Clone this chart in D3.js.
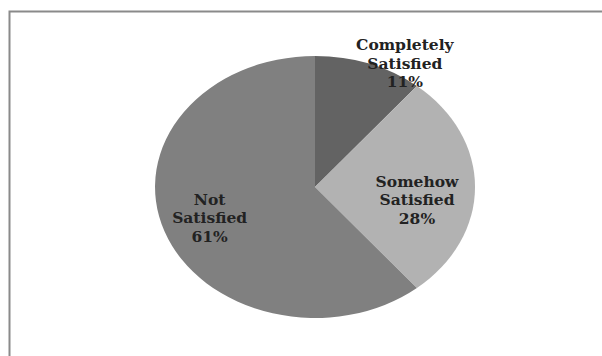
<!DOCTYPE html>
<html>
<head>
<meta charset="utf-8">
<script src="https://cdn.jsdelivr.net/npm/d3@7"></script>
<style>
  html, body { margin: 0; padding: 0; background: #fff; }
  svg { display: block; }
</style>
</head>
<body>
<script>
// Satisfaction survey shares
const categories = ["Completely Satisfied", "Somehow Satisfied", "Not Satisfied"];
const labelLines = [["Completely", "Satisfied"], ["Somehow", "Satisfied"], ["Not", "Satisfied"]];
const shares = [11, 28, 61];
const sliceColors = ["#636363", "#b2b2b2", "#808080"];

const W = 602, H = 356;
const cx = 315, cy = 187, rx = 160, ry = 131;

const svg = d3.select("body").append("svg")
  .attr("width", W).attr("height", H);

// chart frame (open at the bottom and right edge)
svg.append("path")
  .attr("d", `M9.5,${H} V11.5 H${W}`)
  .attr("fill", "none")
  .attr("stroke", "#8a8a8a")
  .attr("stroke-width", 2);

const pie = d3.pie().sort(null).value(d => d)(shares);
const arc = d3.arc().innerRadius(0).outerRadius(1);

// circle of radius 1 stretched into the ellipse
const g = svg.append("g")
  .attr("transform", `translate(${cx},${cy}) scale(${rx},${ry})`);

g.selectAll("path").data(pie).join("path")
  .attr("d", arc)
  .attr("fill", (d, i) => sliceColors[i]);

// label placement in unit-circle terms (angle clockwise from top, degrees)
const labelPlace = [
  { r: 1.10, angle: 30.7 },
  { r: 0.645, angle: 98.8 },
  { r: 0.70, angle: null }
];

const labels = svg.append("g")
  .attr("font-family", "'DejaVu Serif', serif")
  .attr("font-size", 15.5)
  .attr("font-weight", "bold")
  .attr("fill", "#222")
  .attr("text-anchor", "middle");

pie.forEach((d, i) => {
  const p = labelPlace[i];
  const a = p.angle != null ? p.angle * Math.PI / 180 : (d.startAngle + d.endAngle) / 2;
  const x = cx + Math.sin(a) * p.r * rx;
  const y = cy - Math.cos(a) * p.r * ry;
  const lines = labelLines[i].concat([shares[i] + "%"]);
  const lh = 18.8;
  const t = labels.append("text")
    .attr("x", x)
    .attr("y", y - (lines.length - 1) * lh / 2);
  lines.forEach((s, k) => {
    t.append("tspan").attr("x", x).attr("dy", k === 0 ? "0.35em" : lh).text(s);
  });
});
</script>
</body>
</html>
